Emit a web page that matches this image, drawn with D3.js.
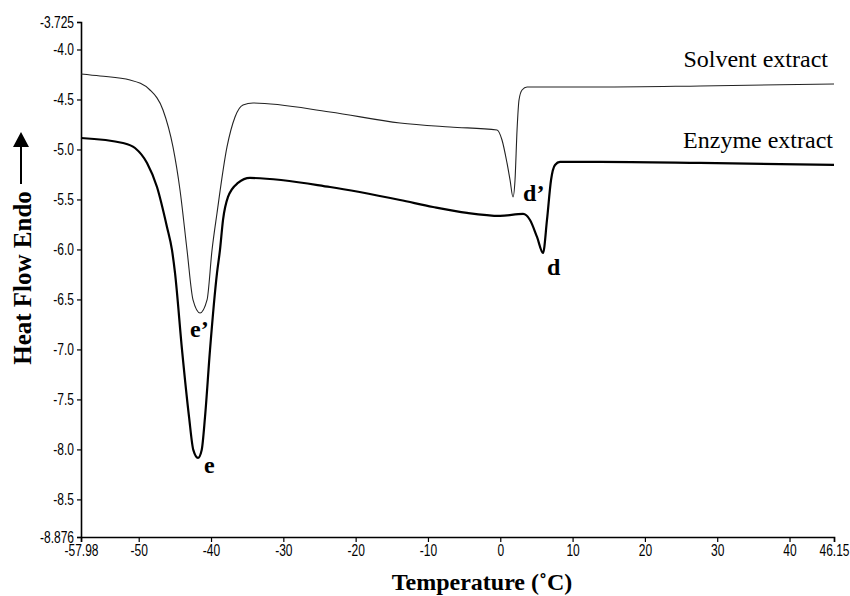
<!DOCTYPE html>
<html>
<head>
<meta charset="utf-8">
<script src="https://cdn.jsdelivr.net/npm/d3@7"></script>
<style>
  html, body { margin: 0; padding: 0; background: #fff; }
  svg { display: block; }
  .tick text { font-family: "Liberation Sans", Arial, sans-serif; font-size: 16px; fill: #000; }
</style>
</head>
<body>
<svg id="chart" width="850" height="596"></svg>
<script>
// ---- data ----
const solventTemp = [-57.98, -55.35, -51.20, -48.44, -46.64, -45.26, -44.29, -43.32, -42.49, -41.52, -40.55, -39.86, -39.17, -37.79, -36.68, -35.58, -34.19, -23.54, -13.86, -6.95, -0.45, 0.24, 0.93, 1.35, 1.76, 2.04, 2.32, 2.59, 3.01, 3.70, 13.80, 27.63, 46.15];
const solventFlow = [-4.245, -4.265, -4.305, -4.405, -4.605, -4.975, -5.405, -6.005, -6.505, -6.635, -6.505, -6.005, -5.635, -4.975, -4.675, -4.555, -4.535, -4.625, -4.735, -4.775, -4.805, -4.905, -5.135, -5.305, -5.475, -5.305, -4.805, -4.505, -4.405, -4.375, -4.375, -4.365, -4.345];

const enzymeTemp = [-57.98, -52.17, -50.51, -48.85, -47.47, -46.09, -45.40, -44.98, -44.01, -43.04, -42.45, -41.80, -41.29, -40.83, -40.14, -39.17, -38.76, -38.34, -37.65, -36.27, -34.61, -23.54, -13.86, -9.30, -4.60, -0.03, 3.15, 4.11, 5.08, 5.91, 6.46, 7.02, 7.57, 8.26, 13.80, 27.63, 46.15];
const enzymeFlow = [-4.885, -4.935, -4.985, -5.135, -5.375, -5.775, -6.005, -6.235, -7.005, -7.675, -8.005, -8.085, -8.005, -7.675, -7.005, -6.235, -6.005, -5.705, -5.475, -5.335, -5.285, -5.375, -5.505, -5.575, -5.635, -5.665, -5.645, -5.705, -5.875, -6.035, -5.705, -5.305, -5.155, -5.125, -5.125, -5.135, -5.155];

const xTicks = [-57.98, -50, -40, -30, -20, -10, 0, 10, 20, 30, 40, 46.15];
const xTickLabels = ["-57.98", "-50", "-40", "-30", "-20", "-10", "0", "10", "20", "30", "40", "46.15"];
const yTicks = [-3.725, -4.0, -4.5, -5.0, -5.5, -6.0, -6.5, -7.0, -7.5, -8.0, -8.5, -8.876];
const yTickLabels = ["-3.725", "-4.0", "-4.5", "-5.0", "-5.5", "-6.0", "-6.5", "-7.0", "-7.5", "-8.0", "-8.5", "-8.876"];

const seriesNames = ["Solvent extract", "Enzyme extract"];
const peakLabels = ["e\u2019", "e", "d\u2019", "d"];
const peakTemp = [-42.9, -40.97, 3.15, 6.46];
const peakFlow = [-6.875, -8.235, -5.515, -6.255];

const xTitle = "Temperature (\u02DaC)";
const yTitle = "Heat Flow Endo";

// ---- drawing ----
const svg = d3.select("#chart");
const x = d3.scaleLinear().domain([-57.98, 46.15]).range([81, 834]);
const y = d3.scaleLinear().domain([-8.876, -3.725]).range([537, 22]);

const xAxis = d3.axisBottom(x).tickValues(xTicks).tickSize(5).tickPadding(3)
  .tickFormat((d, i) => xTickLabels[i]);
const yAxis = d3.axisLeft(y).tickValues(yTicks).tickSize(4).tickPadding(3)
  .tickFormat((d, i) => yTickLabels[i]);

const gx = svg.append("g").attr("transform", "translate(0,537)").call(xAxis);
const gy = svg.append("g").attr("transform", "translate(81,0)").call(yAxis);
[gx, gy].forEach(g => {
  g.select(".domain").attr("stroke", "#000").attr("stroke-width", 1.6);
  g.selectAll(".tick line").attr("stroke", "#000").attr("stroke-width", 1.2);
});
const sx = 0.75;
gx.selectAll(".tick text").attr("dy", "0.68em").attr("transform", `scale(${sx},1)`);
gy.selectAll(".tick text").attr("x", -7 / sx).attr("transform", `scale(${sx},1)`);

const line = d3.line()
  .x(d => x(d[0])).y(d => y(d[1]))
  .curve(d3.curveMonotoneX);

const solvent = solventTemp.map((t, i) => [t, solventFlow[i]]);
const enzyme = enzymeTemp.map((t, i) => [t, enzymeFlow[i]]);

svg.append("path").datum(solvent).attr("d", line)
  .attr("fill", "none").attr("stroke", "#222").attr("stroke-width", 1.1);
svg.append("path").datum(enzyme).attr("d", line)
  .attr("fill", "none").attr("stroke", "#000").attr("stroke-width", 2.2);

// series labels
const serif = "'Liberation Serif', 'Times New Roman', Times, serif";
svg.append("text").attr("x", 828).attr("y", 67).attr("text-anchor", "end")
  .attr("font-family", serif).attr("font-size", 24).text(seriesNames[0]);
svg.append("text").attr("x", 833).attr("y", 148).attr("text-anchor", "end")
  .attr("font-family", serif).attr("font-size", 24).text(seriesNames[1]);

// peak labels
svg.selectAll(".peak").data(peakLabels).enter().append("text")
  .attr("class", "peak")
  .attr("x", (d, i) => x(peakTemp[i]))
  .attr("y", (d, i) => y(peakFlow[i]))
  .attr("font-family", serif).attr("font-weight", "bold").attr("font-size", 24)
  .text(d => d);

// axis titles
svg.append("text").attr("x", 482).attr("y", 590).attr("text-anchor", "middle")
  .attr("font-family", serif).attr("font-weight", "bold").attr("font-size", 24)
  .text(xTitle);

svg.append("text").attr("transform", "translate(31,278) rotate(-90)")
  .attr("text-anchor", "middle")
  .attr("font-family", serif).attr("font-weight", "bold").attr("font-size", 25)
  .text(yTitle);

// arrow next to y title
svg.append("line").attr("x1", 21).attr("x2", 21).attr("y1", 184).attr("y2", 144)
  .attr("stroke", "#000").attr("stroke-width", 2);
svg.append("path").attr("d", "M21,132 L13,147 L29,147 Z").attr("fill", "#000");
</script>
</body>
</html>
